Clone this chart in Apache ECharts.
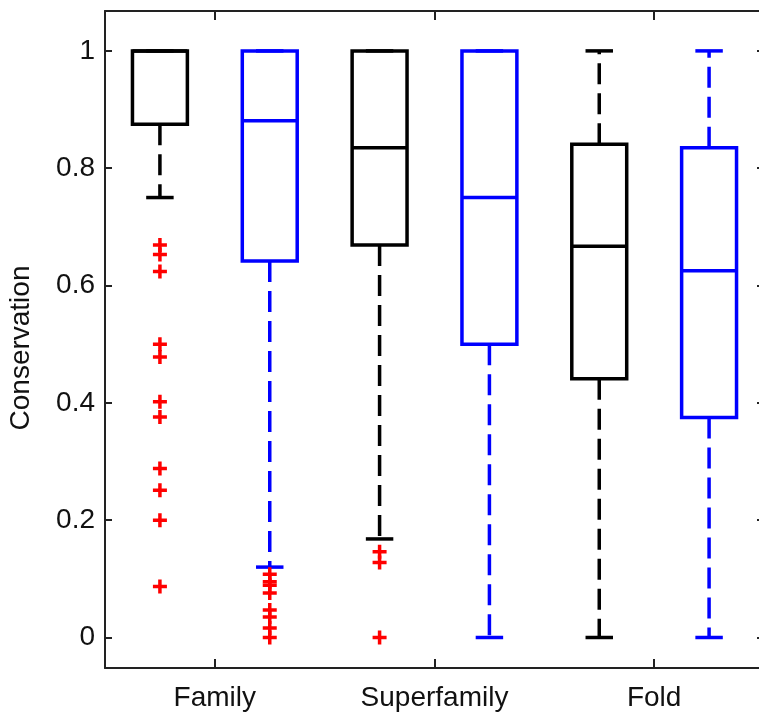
<!DOCTYPE html>
<html>
<head>
<meta charset="utf-8">
<script src="https://cdn.jsdelivr.net/npm/echarts@6/dist/echarts.min.js"></script>
<style>
html,body{margin:0;padding:0;background:#fff;}
#chart{width:759px;height:715px;}
</style>
</head>
<body>
<div id="chart"></div>
<script>
// ---- data ----
const groups = ['Family', 'Superfamily', 'Fold'];
const boxNames = ['Family A', 'Family B', 'Superfamily A', 'Superfamily B', 'Fold A', 'Fold B'];
const boxMin    = [0.75, 0.12, 0.168, 0.0, 0.0, 0.0];
const boxQ1     = [0.875, 0.642, 0.669, 0.5, 0.441, 0.375];
const boxMedian = [1.0, 0.881, 0.835, 0.75, 0.667, 0.625];
const boxQ3     = [1.0, 1.0, 1.0, 1.0, 0.841, 0.835];
const boxMax    = [1.0, 1.0, 1.0, 1.0, 1.0, 1.0];
const outliers = [
  [0.669, 0.653, 0.624, 0.5, 0.478, 0.402, 0.376, 0.288, 0.251, 0.2, 0.087],
  [0.108, 0.095, 0.089, 0.076, 0.047, 0.035, 0.016, 0.0],
  [0.146, 0.128, 0.0],
  [],
  [],
  []
];
const yTicks = [0, 0.2, 0.4, 0.6, 0.8, 1];
const yTickLabels = ['0', '0.2', '0.4', '0.6', '0.8', '1'];

// ---- styles ----
const boxColors = ['#000000', '#0000ff'];
const outlierColor = '#ff0000';
const LW = 3.5;
const FONT = 'Liberation Sans, Arial, Helvetica, sans-serif';

const boxData = boxNames.map((n, i) => [i + 1, boxMin[i], boxQ1[i], boxMedian[i], boxQ3[i], boxMax[i]]);
const outlierData = [];
outliers.forEach((arr, i) => arr.forEach(v => outlierData.push([i + 1, v])));

const groupTickPos = groups.map((g, k) => 1.5 + 2 * k);

function renderBox(params, api) {
  const x = api.value(0);
  const mn = api.value(1), q1 = api.value(2), md = api.value(3), q3 = api.value(4), mx = api.value(5);
  const color = boxColors[params.dataIndex % 2];
  const c = (a, b) => api.coord([a, b]);
  const line = (p1, p2, dash) => ({
    type: 'line',
    shape: { x1: p1[0], y1: p1[1], x2: p2[0], y2: p2[1] },
    style: { stroke: color, lineWidth: LW, lineDash: dash || null, fill: null }
  });
  const children = [];
  if (mn < q1) children.push(line(c(x, q1), c(x, mn), [21, 9]));
  if (mx > q3) children.push(line(c(x, q3), c(x, mx), [21, 9]));
  children.push(line(c(x - 0.125, mn), c(x + 0.125, mn)));
  children.push(line(c(x - 0.125, mx), c(x + 0.125, mx)));
  const tl = c(x - 0.25, q3), br = c(x + 0.25, q1);
  children.push({
    type: 'rect',
    shape: { x: tl[0], y: tl[1], width: br[0] - tl[0], height: br[1] - tl[1] },
    style: { stroke: color, lineWidth: LW, fill: null }
  });
  children.push(line(c(x - 0.25, md), c(x + 0.25, md)));
  return { type: 'group', children: children };
}

const chart = echarts.init(document.getElementById('chart'), null, { renderer: 'canvas' });
const axisLineStyle = { color: '#222', width: 2 };
chart.setOption({
  animation: false,
  backgroundColor: '#ffffff',
  grid: { left: 105, top: 11, width: 659, height: 657, containLabel: false, outerBoundsMode: 'none' },
  xAxis: [
    {
      type: 'value', min: 0.5, max: 6.5, position: 'bottom',
      axisLine: { show: true, onZero: false, lineStyle: axisLineStyle },
      axisTick: { show: true, inside: true, length: 9, customValues: groupTickPos, lineStyle: { color: '#222', width: 2 } },
      axisLabel: { show: true, customValues: groupTickPos, margin: 16, fontSize: 28, fontFamily: FONT, color: '#111',
        formatter: v => groups[Math.round((v - 1.5) / 2)] },
      splitLine: { show: false }
    },
    {
      type: 'value', min: 0.5, max: 6.5, position: 'top',
      axisLine: { show: true, onZero: false, lineStyle: axisLineStyle },
      axisTick: { show: true, inside: true, length: 9, customValues: groupTickPos, lineStyle: { color: '#222', width: 2 } },
      axisLabel: { show: false },
      splitLine: { show: false }
    }
  ],
  yAxis: [
    {
      type: 'value', min: -0.052, max: 1.068, position: 'left',
      name: 'Conservation', nameLocation: 'middle', nameGap: 70, nameRotate: 90,
      nameTextStyle: { fontSize: 28, fontFamily: FONT, color: '#111', padding: [0, 17, 0, 0] },
      axisLine: { show: true, onZero: false, lineStyle: axisLineStyle },
      axisTick: { show: true, inside: true, length: 7, customValues: yTicks, lineStyle: { color: '#222', width: 2 } },
      axisLabel: { show: true, customValues: yTicks, margin: 10, fontSize: 28, fontFamily: FONT, color: '#111',
        formatter: v => yTickLabels[yTicks.findIndex(t => Math.abs(t - v) < 1e-9)] },
      splitLine: { show: false }
    },
    {
      type: 'value', min: -0.052, max: 1.068, position: 'right',
      axisLine: { show: true, onZero: false, lineStyle: axisLineStyle },
      axisTick: { show: true, inside: true, length: 7, customValues: yTicks, lineStyle: { color: '#222', width: 2 } },
      axisLabel: { show: false },
      splitLine: { show: false }
    }
  ],
  series: [
    {
      type: 'custom', name: 'boxes', xAxisIndex: 0, yAxisIndex: 0,
      renderItem: renderBox,
      data: boxData,
      encode: { x: 0, y: [1, 2, 3, 4, 5] },
      z: 2
    },
    {
      type: 'scatter', name: 'outliers', xAxisIndex: 0, yAxisIndex: 0,
      data: outlierData,
      symbol: 'path://M3.75,0 H6.25 V3.75 H10 V6.25 H6.25 V10 H3.75 V6.25 H0 V3.75 H3.75 Z',
      symbolSize: 14,
      itemStyle: { color: outlierColor, opacity: 1 },
      z: 3
    }
  ]
});
</script>
</body>
</html>
